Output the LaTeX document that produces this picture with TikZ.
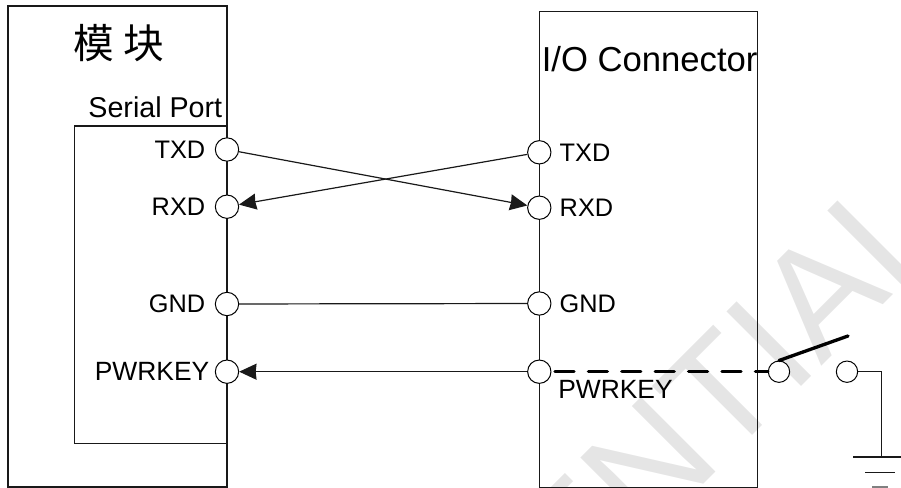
\documentclass[tikz,border=0pt]{standalone}
\usepackage{fontspec}
\setmainfont{Liberation Sans}
\newfontfamily\cjkfont{Noto Sans CJK SC}
\usetikzlibrary{positioning,arrows.meta}
\tikzset{
    wire/.style={draw=black!90, line width=0.9pt},
    port/.style={circle, draw=black, fill=white, line width=0.75pt, minimum size=17.5pt, inner sep=0pt},
    swport/.style={port, minimum size=16pt},
    portlabel/.style={inner sep=0pt, font=\fontsize{19}{19}\selectfont},
    keylabel/.style={inner sep=0pt, font=\fontsize{19.8}{20}\selectfont},
    sig/.style={wire, -{Stealth[length=13pt,width=12pt,inset=0.6pt]}}
}
\begin{document}
\begin{tikzpicture}[x=0.75pt,y=-0.75pt]
    \useasboundingbox (0,0) rectangle (901,488);
    \clip (0,0) rectangle (901,488);

    % Watermark
    \node[anchor=base east, rotate=45, inner sep=0pt, text=black!10, font=\fontsize{115}{115}\selectfont] (mark) at (954,234) {CONFIDENTIAL};

    % Boxes
    \draw[wire] (8,6) rectangle (227,487);
    \draw[wire] (74.5,126) rectangle (227,443.5);
    \draw[wire] (539.3,11.7) rectangle (757.3,487.3);

    \node[font=\cjkfont\fontsize{30.5}{32}\selectfont, inner sep=0pt] (title) at (119,43.5) {模 块};
    \node[inner sep=0pt, font=\fontsize{21.5}{22}\selectfont, anchor=east] (serial) at (222.5,107) {Serial Port};
    \node[inner sep=0pt, font=\fontsize{26}{26}\selectfont, anchor=west] (conn) at (541.5,59.5) {I/O Connector};

    % Ports
    \foreach \name/\ly/\ry in {TXD/149.5/152.3, RXD/206.7/207.7, GND/304/303.5, PWRKEY/371.7/371.7} {
        \node[port] (m\name) at (227,\ly) {};
        \node[port] (c\name) at (539.3,\ry) {};
    }
    \foreach \name in {TXD,RXD,GND} {
        \node[portlabel, left=7pt of m\name] (ml\name) {\name};
        \node[portlabel, right=6pt of c\name] (cl\name) {\name};
    }
    \node[keylabel, left=4pt of mPWRKEY] (mlPWRKEY) {PWRKEY};
    \node[keylabel, anchor=base west] (clPWRKEY) at (558,399) {PWRKEY};

    % Connectors
    \draw[sig] (mTXD) -- (cRXD);
    \draw[sig] (cTXD) -- (mRXD);
    \draw[wire] (mGND) -- (cGND);
    \draw[sig] (cPWRKEY) -- (mPWRKEY);

    % Switch
    \node[swport] (swa) at (779,371.7) {};
    \node[swport] (swb) at (847,371.7) {};
    \coordinate (swtip) at (848,336);
    \draw[line width=2.5pt, line cap=round, dash pattern=on 14.25pt off 10.8pt, dash phase=22.4pt] (cPWRKEY) -- (swa);
    \draw[line width=2.5pt, line cap=round] (swa.north) -- (swtip);

    % Ground
    \coordinate (gndtop) at (881.5,457);
    \draw[wire] (swb) -| (gndtop);
    \coordinate (gnda1) at (853,457);
    \coordinate (gnda2) at (901,457);
    \coordinate (gndb1) at (865,472.7);
    \coordinate (gndb2) at (895,472.7);
    \coordinate (gndc1) at (872,487);
    \coordinate (gndc2) at (888,487);
    \draw[wire] (gnda1) -- (gnda2);
    \draw[wire] (gndb1) -- (gndb2);
    \draw[wire, draw=black!50] (gndc1) -- (gndc2);
\end{tikzpicture}
\end{document}
